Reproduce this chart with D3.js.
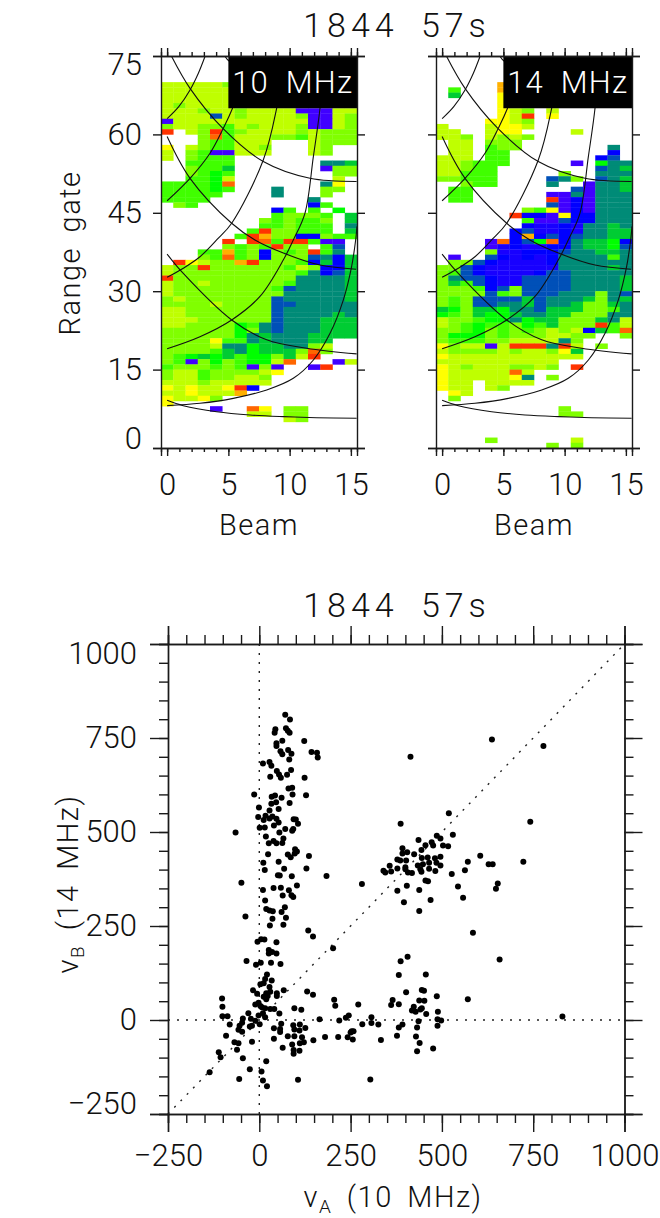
<!DOCTYPE html>
<html><head><meta charset="utf-8">
<script src="https://cdn.jsdelivr.net/npm/d3@7"></script>
<style>
html,body{margin:0;padding:0;background:#fff}
svg{display:block}
text{font-family:Roboto,"Liberation Sans",sans-serif;font-weight:300;fill:#111;}
</style></head><body><div id="chart"></div>
<script>
const titleText = "1844 57s";
const beamTicks = [0,5,10,15];
const beamMinor = d3.range(0,16);
const gateTicks = [0,15,30,45,60,75];
const levelKeys = ["a","b","c","d","e","f","g","h","i","j","y","u","o","r"];
const levelColors = ["#bfff00","#80ff00","#40ff00","#00ff00","#00cc33","#008b77","#0050b8","#0000ff","#4000ff","#1800ff","#ffff00","#ffb000","#ff6600","#ff3300"];
const topGate = 69;
const cellsA = [
"aaaaab..........","aaaaaa..........","aaaaaa..........","aaaaaa..........","abaaaa..........",
"aaabaabaaaaiiiaa","aaaagabaaaabiiab","iaaaaaaaaaaaiiab","baabbcabaaabiiab","r.abrcbaaaababbb",
"...bocaaabbcabbb","...bccaaa...abbb","y.abccaab...ab..","a.bciiaaa...ab..","a.bccc..........",
"..cccc.......ffe","..bcce.......ibb","..bcdc........bb","..ccda........a.","ccccdo.......fy.",
"ccccdc...f...bb.","ccccc....f...b..","cccc........f...",".bc.........hc..",".........hc.c.d.",
".........cbbbc.e","........bcbccb.e","........ccbccc.f",".......crbbccc.e","......crubbhhbcc",
".....r.rocrrcii.",".....bcbcrbb.cg.","...ccucbhbcbrcf.","...bcocbhbbbgfhe",".ryabburbbbchehe",
"abbrbbbbbbcabhhe","abbbbbbbbbbcfhge","rbbbbbbbbbbffffe","abbabbbbbbcffffe","abbbbbbbbcgffffe",
"abbbbbbbbbfffffe","babbbbbbbgfffffe","bbbbabbbbggfffff","aabbbbbbbgffffff","aabbbbbbbgffffef",
"aaabbbbbbgfffeee","aabbbbdcfgfffeee","bbbbbbdbfgfffeee","bbbbbbdfefffeeee","bbbbyccfefffee..",
"bbbbaffdeeffba..","bbbbcefdeeebob..","bcdedecddbear...","bcibdbcddao...ia","cbbbcbcibi..ir..",
"baacbbbbay......","baacbbaab.......","aaabaaaaa.......","yayaayrh........","aayaaau.........",
"yaayb...........","y...............","....i..oy.bb....",".......aa.bb....","..........ab....",
"................","................","................","................","................"];
const cellsB = [
".....u..........",".c...u..........",".e...y..........",".....y..........",".....y..........",
".....yab.a......",".....yar.y......","....yyab........","a...ayya........","aa..ayy....a....",
"aab.abab........",".aa.bbb.........",".aa.cbb.......f.",".aa.cc........h.","aaa.cc.......hg.",
"aabccc.....i.dff","aabcc........gfe","aaccc.....b..fff","bbccc....gfb.gfe","..bcc....f..iffe",
".cc........giffe",".cc......iififff",".cc......rihifff",".........gihifff",".......bcyihifff",
"......rhhiyhhfff",".......ciighhfff",".......hjjhjffef","......hgjjhjffee","......huhghgffee",
"....iohgdohfeedh","....ijhjjhhfeedg","....bjjhhhgffeef",".i..ghjhjhffffcf",".bbghjjjjhffffff",
"bbghjjjjjjffffef","bcghjjjjhggfffff","bfgghjjggggffffe","becghjjggggffffe","bbbchgbggggffffe",
"bbbbgcbgggfffbfg","bcbggggegfffebfe","bcbggffegffebbef","edbeedffgeeebbcf","dcbeddeffeebbbff",
"abbcddfdeebbbefa","abcdccbdcebbbrca","bbcdbcbcbabaheco","bdddbcbbbaabb..b","bcccbbaaaafb....",
"ybaaiarrrfra.b..","abbbbabaabye....","yaaaaaaaaaaa....","aaaaaaaaaa......","yabaaabbab.r....",
"yaaaaaoa........","yaaaaayf.b......","yaa.aaaa........","yaa.ab..........",".ya.............",
".b..............","................","..........b.....","..........bb....","................",
"................","................","................","....b......a....",".........b.b...."];
const rangeCurves = [
 [[0,9.12],[1.32,8.1],[4.04,6.95],[6.77,6.32],[9.49,6],[12.2,5.8],[15.47,5.68]],
 [[0,8.1],[2.68,8.55],[5.4,9.5],[8.13,11.1],[10.3,13.33],[11.94,16.84],[13.3,21.95],[14.38,28.3],[15.06,34.7],[15.39,39.8],[15.5,42.4]],
 [[0,19],[2.68,21.3],[5.27,24.5],[7.58,29],[9.49,36],[10.3,39.8],[11.25,44.9],[11.94,55.8],[12.48,65],[12.89,76.8]],
 [[0,32.66],[1.32,34.4],[2.68,36.6],[4.04,39.8],[5.27,43],[7.85,55.1],[8.94,65],[9.76,76.8]],
 [[0,47.3],[1.87,51.6],[3.5,56.4],[4.59,61.2],[5.32,64.9],[6.77,74.9]],
 [[0,63],[0.95,65.3],[1.87,68.5],[2.55,71.7],[3.09,74.9]],
 [[0.37,74.9],[1.87,68.8],[4.53,61.2],[7.85,54.8],[11.66,51.6],[15.47,51]],
 [[0,59.6],[1.87,51.6],[5.27,43],[7.17,39.8],[9.49,37.3],[12.48,35],[15.42,34.2]],
 [[0,37.1],[1.32,33.4],[5.27,24.5],[8.13,20.7],[11.39,19.1],[15.47,18]],
 [[4.7,75],[5.13,73.9],[9.49,69.8],[15.47,66.6]]
];
const vTicks = [-250,0,250,500,750,1000];
const vMinor = d3.range(-250,1001,50);
const vA = [71,84,44,42,73,78,83,63,123,47,47,58,63,79,88,143,158,160,82,10,28,33,87,48,54,59,76,30,124,80,90,91,128,-14,34,43,61,33,46,83,-1,53,28,17,-3,12,28,36,47,53,40,94,100,106,1,15,71,93,90,55,-65,18,66,63,39,47,26,24,98,103,97,78,86,136,11,53,129,68,15,51,56,89,184,-49,281,103,39,59,81,10,64,88,93,16,
70,19,28,37,61,-38,73,36,29,66,134,147,-5,5,14,47,202,26,35,47,26,-35,4,-9,32,58,21,34,16,12,3,28,-17,-6,67,131,147,30,19,48,48,12,23,19,-102,205,208,271,-101,-2,-11,3,7,16,30,41,96,115,-30,10,55,-101,-87,-2,-45,245,237,307,165,219,16,-23,-11,-81,-47,1,60,307,282,326,93,111,-54,-57,-47,-26,-20,40,57,57,96,110,126,253,258,250,-91,78,96,117,180,216,242,256,40,333,148,-68,-57,-20,90,122,111,64,-61,94,94,110,-111,-106,-45,19,-26,-136,6,-55,106,304,10,21,
414,637,778,519,387,742,530,486,496,436,472,476,455,503,517,392,444,392,405,424,605,378,386,402,445,461,481,496,571,723,628,639,357,378,400,434,448,465,485,496,340,345,361,400,407,418,441,444,465,482,563,527,455,462,653,648,404,544,378,438,396,469,558,438,585,
406,387,658,382,456,402,445,451,486,571,365,438,452,361,382,423,418,428,445,441,489,457,830,436,488,498,488,392,382,432,377,429,439,476,432];
const vB = [812,799,773,764,776,769,764,743,742,736,729,715,707,718,708,713,711,698,693,682,686,676,665,662,653,644,652,647,644,616,618,600,598,600,594,597,591,575,579,577,565,561,557,543,540,532,536,541,535,525,517,534,533,522,511,512,508,508,503,499,499,488,483,471,476,470,470,441,454,448,443,440,433,436,418,421,403,402,399,385,384,382,383,365,362,358,351,352,345,346,331,332,327,318,
300,295,291,289,287,275,272,269,251,253,238,222,208,215,214,207,191,186,181,177,177,157,152,147,152,149,121,105,109,98,95,88,79,70,79,76,67,75,71,71,64,62,64,55,57,54,38,41,35,46,41,37,34,31,29,29,31,27,18,18,17,10,10,12,4,12,6,7,2,-1,7,3,-2,-12,-7,-11,-10,-8,-11,-12,-14,-12,-15,-26,-31,-17,-15,-22,-24,-32,-25,-28,-21,-30,-30,-33,-42,-43,-43,-46,-45,-45,-46,-52,-50,-53,-54,-59,-62,-58,-65,-59,-62,-74,-79,-80,-90,-82,-86,-99,-102,-110,-131,-139,-137,-157,-159,-158,-161,-176,
700,746,729,550,522,527,493,490,483,479,473,464,465,464,462,457,452,443,446,441,437,427,424,424,431,432,430,434,421,421,414,414,410,403,406,411,414,418,418,411,397,392,395,401,392,391,401,394,402,396,398,388,371,369,363,349,357,355,344,346,313,319,325,290,232,
168,156,161,120,121,74,80,78,63,55,53,52,51,40,42,35,25,22,31,28,22,16,9,-3,2,-1,-15,-12,-20,-20,-42,-44,-61,-76,-83];

const W=660,H=1218;
const svg=d3.select("#chart").append("svg").attr("width",W).attr("height",H);
const INK="#1a1a1a";
const color=d3.scaleOrdinal(levelKeys,levelColors);

function styleAxis(g,w){
  g.selectAll("path.domain").attr("stroke",INK).attr("stroke-width",w);
  g.selectAll(".tick line").attr("stroke",INK).attr("stroke-width",w);
  g.selectAll("text").attr("font-family",null).attr("font-size",null).attr("fill",null);
  g.attr("font-family",null).attr("font-size",null);
}
function axisPair(root,scale,major,minor,orient,transform,majorLen,minorLen,fmt,pad,edge){
  if(minor){
    const gm=root.append("g").attr("transform",transform).call(orient(scale).tickValues(minor).tickSize(minorLen).tickFormat(""));
    styleAxis(gm,1.4);
  }
  const g=root.append("g").attr("transform",transform).call(orient(scale).tickValues(major).tickSize(majorLen).tickPadding(pad||3).tickFormat(fmt||""));
  styleAxis(g,1.4);
  g.selectAll("text").style("font-size","31px");
  if(edge){
    const lo=d3.min(major), hi=d3.max(major);
    g.selectAll(".tick text").attr("transform",d=>d===hi?`translate(0,${edge})`:d===lo?`translate(0,${-edge})`:null);
  }
  return g;
}
function label(x,y,txt,size,rot,ls,ws){
  const t=svg.append("text").attr("text-anchor","middle").attr("font-size",size).attr("letter-spacing",ls||1.5).attr("word-spacing",ws||6).text(txt);
  t.attr("transform",`translate(${x},${y})`+(rot?` rotate(${rot})`:""));
  return t;
}

const minus=d=>String(d).replace("-","\u2212");

function panel(id,x0,cells,freq,showY){
  const x=d3.scaleLinear([-0.5,15.5],[x0,x0+196]);
  const y=d3.scaleLinear([0,75],[448,56]);
  const root=svg.append("g");
  const clipId="clip"+id;
  svg.append("clipPath").attr("id",clipId).append("rect").attr("x",x0).attr("y",56).attr("width",196).attr("height",392);
  const rows=[];
  cells.forEach((r,i)=>{r.split("").forEach((c,b)=>{if(c!==".")rows.push({b,g:topGate-i,c});});});
  root.append("g").selectAll("rect").data(rows).join("rect")
    .attr("x",d=>x(d.b-0.5)).attr("width",d=>x(d.b+0.5)-x(d.b-0.5)+0.3)
    .attr("y",d=>y(d.g+1)).attr("height",d=>y(d.g)-y(d.g+1)+0.3)
    .attr("fill",d=>color(d.c));
  const line=d3.line().x(d=>x(d[0])).y(d=>y(d[1])).curve(d3.curveCatmullRom.alpha(0.5));
  root.append("g").attr("clip-path",`url(#${clipId})`).selectAll("path").data(rangeCurves).join("path")
    .attr("d",line).attr("fill","none").attr("stroke","#111").attr("stroke-width",1.1);
  const bx=x(5), by=y(75), bh=y(65)-y(75);
  root.append("rect").attr("x",bx).attr("y",by).attr("width",x(15.5)-bx).attr("height",bh).attr("fill","#000");
  root.append("text").attr("x",(bx+x(15.5))/2).attr("y",by+37).attr("text-anchor","middle")
    .attr("font-size",31).attr("letter-spacing",1.2).attr("word-spacing",8).style("fill","#fff").text(freq);
  axisPair(root,x,beamTicks,beamMinor,d3.axisBottom,`translate(0,448)`,8,4,d=>d,17);
  axisPair(root,x,beamTicks,beamMinor,d3.axisTop,`translate(0,56)`,8,4,null);
  axisPair(root,y,gateTicks,null,d3.axisLeft,`translate(${x0},0)`,8,0,showY?(d=>d):null,11,9);
  axisPair(root,y,gateTicks,null,d3.axisRight,`translate(${x0+196},0)`,8,0,null);
  label((x(-0.5)+x(15.5))/2,535,"Beam",29);
}
panel("a",161,cellsA,"10 MHz",true);
panel("b",436,cellsB,"14 MHz",false);
label(397,37,titleText,34,0,5,9);
label(80,253,"Range gate",29,-90);

const sx=d3.scaleLinear([-250,1000],[168,624.5]);
const sy=d3.scaleLinear([-250,1000],[1114,644]);
const sroot=svg.append("g");
const dotted=[[[-250,0],[1000,0]],[[0,-250],[0,1000]],[[-250,-250],[1000,1000]]];
sroot.selectAll("path.guide").data(dotted).join("path").attr("class","guide")
  .attr("d",d3.line().x(d=>sx(d[0])).y(d=>sy(d[1])))
  .attr("fill","none").attr("stroke","#222").attr("stroke-width",1.4).attr("stroke-dasharray","2 7");
sroot.append("g").selectAll("circle").data(vA.map((a,i)=>[a,vB[i]])).join("circle")
  .attr("cx",d=>sx(d[0])).attr("cy",d=>sy(d[1])).attr("r",3).attr("fill","#000");
axisPair(sroot,sx,vTicks,vMinor,d3.axisBottom,`translate(0,1114)`,18,9,minus,12);
axisPair(sroot,sx,vTicks,vMinor,d3.axisTop,`translate(0,644)`,18,9,null);
axisPair(sroot,sy,vTicks,vMinor,d3.axisLeft,`translate(168,0)`,18,9,minus,13,10);
axisPair(sroot,sy,vTicks,vMinor,d3.axisRight,`translate(624.5,0)`,18,9,null);
label(397,617,titleText,34,0,5,9);
function vLabel(x,y,sub,rest,rot){
  const t=svg.append("text").attr("text-anchor","middle").attr("font-size",29).attr("letter-spacing",1.5).attr("word-spacing",6)
    .attr("transform",`translate(${x},${y})`+(rot?` rotate(${rot})`:""));
  t.append("tspan").text("v");
  t.append("tspan").text(sub).attr("font-size",19).attr("dy",6);
  t.append("tspan").text(" "+rest).attr("dy",-6);
}
vLabel(393,1207,"A","(10 MHz)");
vLabel(78,884,"B","(14 MHz)",-90);
</script></body></html>
